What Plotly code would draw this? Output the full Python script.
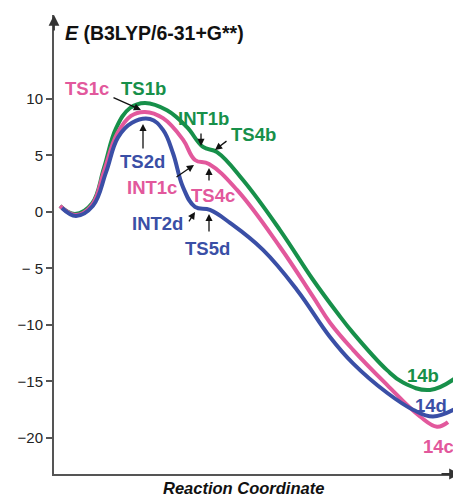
import plotly.graph_objects as go

# Reaction coordinate (arbitrary units) and energies (kcal/mol)
x_14b = [6, 21, 38, 50, 62, 76, 91, 113, 133, 149, 163, 189, 226, 259, 283, 299, 333, 349, 376, 403]
e_14b = [0.53, -0.18, 0.75, 3.9, 7.4, 9.2, 9.65, 9.0, 7.5, 5.75, 5.3, 2.83, -1.6, -6.0, -8.9, -10.7, -14.0, -15.1, -15.75, -14.6]

x_14c = [6, 22, 38, 50, 63, 77, 91, 109, 129, 141, 155, 183, 226, 259, 276, 299, 333, 366, 383, 394]
e_14c = [0.53, -0.27, 0.62, 3.6, 6.9, 8.5, 8.85, 8.3, 6.4, 4.6, 4.25, 1.95, -3.1, -7.5, -9.8, -12.2, -15.3, -18.1, -19.0, -18.6]

x_14d = [8, 22, 39, 52, 64, 78, 96, 109, 119, 129, 141, 156, 176, 209, 243, 276, 299, 333, 359, 379, 404]
e_14d = [0.35, -0.35, 0.55, 3.5, 6.6, 7.9, 8.23, 7.26, 5.2, 2.2, 0.44, 0.18, -0.97, -3.36, -6.9, -11.06, -13.4, -16.0, -17.5, -18.1, -17.3]

y_tickvals = [10, 5, 0, -5, -10, -15, -20]
y_ticktext = ["10", "5", "0", "\u2212 5", "\u221210", "\u221215", "\u221220"]

GREEN = "#17904a"
PINK = "#e2589c"
BLUE = "#3a4fa6"
AXIS = "#555555"
FONT = "Liberation Sans, Arial, sans-serif"

X0, X1 = 0, 406
Y0, Y1 = -23.19, 17.43

# page offset (body margin) compensation: plot area spans window px 54..460, 15..474
OFF = 8
PL, PR, PT, PB = 54, 460, 15, 474


def X(px):
    return px - 54


def Y(py):
    return (212 - py) / 11.3


def PX(px):
    return (px - PL) / (PR - PL)


def PY(py):
    return (PB - py) / (PB - PT)


fig = go.Figure()
for xs, es, col in [(x_14b, e_14b, GREEN), (x_14c, e_14c, PINK), (x_14d, e_14d, BLUE)]:
    fig.add_trace(go.Scatter(x=xs, y=es, mode="lines",
                             line=dict(color=col, width=4, shape="spline", smoothing=1.15),
                             hoverinfo="skip", showlegend=False))

ann = []
# axis arrows
ann.append(dict(x=X(54), y=Y1, xref="x", yref="y", ax=X(54), ay=Y(32), axref="x", ayref="y",
                showarrow=True, arrowhead=2, arrowsize=1.2, arrowwidth=1.8, arrowcolor="#333", text=""))
ann.append(dict(x=X1, y=Y0, xref="x", yref="y", ax=X(440), ay=Y0, axref="x", ayref="y",
                showarrow=True, arrowhead=2, arrowsize=1.2, arrowwidth=1.8, arrowcolor="#333", text=""))

# pointer arrows (tail px, head px)
arrows = [((112, 97), (141, 110)), ((143, 150), (143, 124)), ((201, 132), (201, 146)),
          ((228, 140), (215, 150)), ((175, 178), (194, 165)), ((209, 182), (209, 168)),
          ((188, 223), (195, 212)), ((209, 233), (209, 214))]
for (tx, ty), (hx, hy) in arrows:
    ann.append(dict(x=X(hx), y=Y(hy), xref="x", yref="y", ax=X(tx), ay=Y(ty), axref="x", ayref="y",
                    showarrow=True, arrowhead=2, arrowsize=1.1, arrowwidth=1.3, arrowcolor="#111", text=""))

labels = [("TS1c", 87, 88, PINK), ("TS1b", 143, 88, GREEN), ("TS2d", 142, 161, BLUE),
          ("INT1b", 203, 118, GREEN), ("TS4b", 253, 135, GREEN), ("INT1c", 152, 188, PINK),
          ("TS4c", 213, 195, PINK), ("INT2d", 157, 223, BLUE), ("TS5d", 207, 248, BLUE),
          ("14b", 423, 375, GREEN), ("14d", 431, 405, BLUE), ("14c", 438, 446, PINK)]
for t, px, py, col in labels:
    ann.append(dict(x=PX(px), y=PY(py), xref="paper", yref="paper", text="<b>%s</b>" % t,
                    showarrow=False, xanchor="center", yanchor="middle",
                    font=dict(family=FONT, size=18.5, color=col)))

ann.append(dict(x=PX(63), y=PY(33), xref="paper", yref="paper", xanchor="left", yanchor="middle",
                text="<b><i>E</i> (B3LYP/6-31+G**)</b>", showarrow=False,
                font=dict(family=FONT, size=19.5, color="#111")))
ann.append(dict(x=PX(243), y=PY(488), xref="paper", yref="paper", xanchor="center", yanchor="middle",
                text="<b><i>Reaction Coordinate</i></b>", showarrow=False,
                font=dict(family=FONT, size=16.5, color="#111")))

fig.update_layout(
    annotations=ann,
    width=461 - OFF, height=496 - OFF,
    margin=dict(l=PL - OFF, r=461 - PR, t=PT - OFF, b=496 - PB),
    plot_bgcolor="white", paper_bgcolor="white",
    xaxis=dict(range=[X0, X1], showgrid=False, zeroline=False, showticklabels=False,
               ticks="", showline=True, linecolor=AXIS, linewidth=2, fixedrange=True),
    yaxis=dict(range=[Y0, Y1], showgrid=False, zeroline=False, tickvals=y_tickvals,
               ticktext=y_ticktext, ticks="outside", ticklen=6, tickwidth=1.5, tickcolor=AXIS,
               showline=True, linecolor=AXIS, linewidth=2,
               tickfont=dict(family=FONT, size=15, color="#222"), fixedrange=True),
)

fig.write_html("out.html")
